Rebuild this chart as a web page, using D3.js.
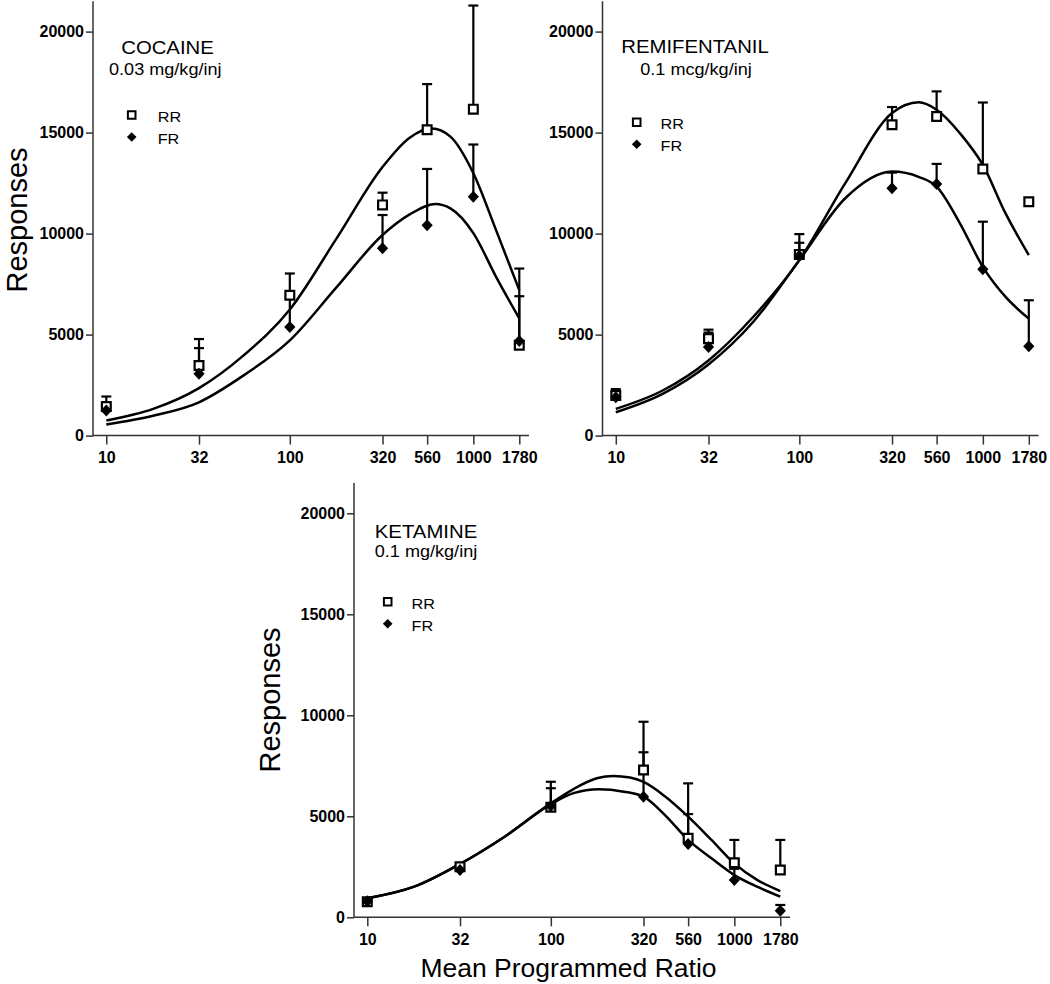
<!DOCTYPE html>
<html><head><meta charset="utf-8">
<script src="https://cdn.jsdelivr.net/npm/d3@7"></script>
<style>body{margin:0;background:#fff} svg{display:block}</style>
</head><body>
<svg id="chart" width="1050" height="984"></svg>
<script>
// ---------- data ----------
const ratios = [10, 32, 100, 320, 560, 1000, 1780];
const xTickLabels = ["10", "32", "100", "320", "560", "1000", "1780"];
const yTicks = [0, 5000, 10000, 15000, 20000];
const seriesNames = ["RR", "FR"];

// Cocaine 0.03 mg/kg/inj
const cocaineRR    = [1440, 3470, 6950, 11420, 15140, 16160, 4470];
const cocaineRRerr = [1935, 4780, 8025, 12025, 17400, 21290, 8270];
const cocaineFR    = [1240, 3060, 5380, 9270, 10410, 11830, 4680];
const cocaineFRerr = [1500, 4330, 6800, 10920, 13200, 14410, 6900];
const cocaineRRfitX = [10, 18, 32, 56, 100, 178, 320, 450, 593, 750, 1000, 1330, 1780];
const cocaineRRfit  = [745, 1320, 2350, 3970, 6240, 9700, 13300, 14750, 15200, 14800, 12990, 10170, 7200];
const cocaineFRfitX = [10, 18, 32, 56, 100, 178, 320, 450, 620, 750, 1000, 1330, 1780];
const cocaineFRfit  = [546, 980, 1650, 2980, 4715, 7300, 9930, 10950, 11465, 11250, 10025, 7860, 5800];

// Remifentanil 0.1 mcg/kg/inj
const remiRR    = [1985, 4800, 8970, 15390, 15800, 13200, 11580];
const remiRRerr = [2300, 5245, 9975, 16265, 17040, 16490, null];
const remiFR    = [1900, 4380, 8900, 12240, 12460, 8240, 4420];
const remiFRerr = [2200, 5100, 9545, 13020, 13450, 10590, 6700];
const remiRRfitX = [10, 18, 32, 56, 100, 178, 320, 447, 560, 750, 1000, 1330, 1780];
const remiRRfit  = [1323, 2233, 3722, 5872, 8685, 12500, 15966, 16500, 16130, 14970, 13400, 11000, 8933];
const remiFRfitX = [10, 18, 32, 56, 100, 178, 320, 450, 560, 750, 1000, 1330, 1780];
const remiFRfit  = [1158, 2068, 3523, 5625, 8685, 11750, 13070, 12800, 12324, 10510, 8353, 6864, 5790];

// Ketamine 0.1 mg/kg/inj
const ketRR    = [770, 2500, 5450, 7290, 3910, 2700, 2340];
const ketRRerr = [950, 2650, 6710, 9680, 6630, 3830, 3830];
const ketFR    = [800, 2340, 5510, 5970, 3630, 1850, 330];
const ketFRerr = [900, 2500, 6390, 8170, 5110, 2400, 610];
const ketRRfitX = [10, 18, 32, 56, 100, 133, 178, 219, 270, 320, 420, 560, 750, 1000, 1330, 1780];
const ketRRfit  = [940, 1515, 2640, 3990, 5640, 6350, 6880, 7000, 6920, 6700, 5980, 4980, 3830, 2670, 1850, 1300];
const ketFRfitX = [10, 18, 32, 56, 100, 133, 182, 250, 320, 420, 560, 750, 1000, 1330, 1780];
const ketFRfit  = [940, 1515, 2640, 3990, 5600, 6150, 6340, 6220, 5970, 5050, 3830, 2920, 2090, 1515, 1020];

// ---------- layout ----------
const FONT = '"Liberation Sans", Arial, Helvetica, sans-serif';
const panels = [
  {title: "COCAINE", dose: "0.03 mg/kg/inj", x0: 93, y0: 435.6,
   rr: cocaineRR, rrErr: cocaineRRerr, fr: cocaineFR, frErr: cocaineFRerr,
   fits: [[cocaineRRfitX, cocaineRRfit], [cocaineFRfitX, cocaineFRfit]],
   tcx: 167.5, ty: 54.3, scx: 165.3, sy: 75,
   lg: {mx: 131.7, my: 115, tx: 157.7}, ylab: {x: 26.5, y: 220}},
  {title: "REMIFENTANIL", dose: "0.1 mcg/kg/inj", x0: 602.5, y0: 435.6,
   rr: remiRR, rrErr: remiRRerr, fr: remiFR, frErr: remiFRerr,
   fits: [[remiRRfitX, remiRRfit], [remiFRfitX, remiFRfit]],
   tcx: 695, ty: 53.3, scx: 696, sy: 75,
   lg: {mx: 636.7, my: 122.3, tx: 660.5}, ylab: null},
  {title: "KETAMINE", dose: "0.1 mg/kg/inj", x0: 354, y0: 917.3,
   rr: ketRR, rrErr: ketRRerr, fr: ketFR, frErr: ketFRerr,
   fits: [[ketRRfitX, ketRRfit], [ketFRfitX, ketFRfit]],
   tcx: 426, ty: 538.3, scx: 426, sy: 557.3,
   lg: {mx: 387.7, my: 601.7, tx: 411.5}, ylab: {x: 280, y: 700}, xlab: true}
];

const svg = d3.select("#chart");
svg.append("rect").attr("width", 1050).attr("height", 984).attr("fill", "#fff");

const AX = "#333";
function squarePath(s) { return `M${-s},${-s}H${s}V${s}H${-s}Z`; }
function diamondPath(w, h) { return `M0,${-h}L${w},0L0,${h}L${-w},0Z`; }

panels.forEach(p => {
  const g = svg.append("g");
  const x = d3.scaleLog().domain([10, 1780]).range([p.x0 + 13.3, p.x0 + 426.3]);
  const y = d3.scaleLinear().domain([0, 20000]).range([p.y0, p.y0 - 404]);
  const xEnd = p.x0 + 436;
  const yTop = y(21500);

  // axes
  const xa = g.append("g").attr("transform", `translate(0,${p.y0})`)
    .call(d3.axisBottom(x).tickValues(ratios).tickFormat((d, i) => xTickLabels[i]).tickSize(9).tickPadding(7));
  const ya = g.append("g").attr("transform", `translate(${p.x0},0)`)
    .call(d3.axisLeft(y).tickValues(yTicks).tickFormat(d3.format("d")).tickSize(7).tickPadding(2));
  [xa, ya].forEach(a => {
    a.select(".domain").remove();
    a.selectAll(".tick line").attr("stroke", AX).attr("stroke-width", 1.5);
    a.selectAll(".tick text").attr("fill", "#000").style("font-family", FONT)
      .style("font-size", "16px").style("font-weight", "bold");
  });
  g.append("line").attr("x1", p.x0).attr("x2", xEnd).attr("y1", p.y0).attr("y2", p.y0)
    .attr("stroke", AX).attr("stroke-width", 1.5);
  g.append("line").attr("x1", p.x0).attr("x2", p.x0).attr("y1", p.y0 + 0.75).attr("y2", yTop)
    .attr("stroke", AX).attr("stroke-width", 1.5);

  // fitted curves
  const line = d3.line().x(d => x(d[0])).y(d => y(d[1])).curve(d3.curveMonotoneX);
  p.fits.forEach(([fx, fy]) => {
    g.append("path").datum(fx.map((v, i) => [v, fy[i]]))
      .attr("d", line).attr("fill", "none").attr("stroke", "#000").attr("stroke-width", 2.5);
  });

  // error bars (upper only)
  const errs = [];
  ratios.forEach((r, i) => {
    if (p.rrErr[i] != null) errs.push([r, p.rr[i], p.rrErr[i]]);
    if (p.frErr[i] != null) errs.push([r, p.fr[i], p.frErr[i]]);
  });
  errs.forEach(e => {
    g.append("line").attr("x1", x(e[0])).attr("x2", x(e[0])).attr("y1", y(e[1])).attr("y2", y(e[2]))
      .attr("stroke", "#000").attr("stroke-width", 2.2);
    g.append("line").attr("x1", x(e[0]) - 5).attr("x2", x(e[0]) + 5).attr("y1", y(e[2])).attr("y2", y(e[2]))
      .attr("stroke", "#000").attr("stroke-width", 2.2);
  });

  // markers
  g.selectAll(".rr").data(p.rr).enter().append("path")
    .attr("transform", (d, i) => `translate(${x(ratios[i])},${y(d)})`)
    .attr("d", squarePath(4.4)).attr("fill", "#fff").attr("stroke", "#000").attr("stroke-width", 2.2);
  g.selectAll(".fr").data(p.fr).enter().append("path")
    .attr("transform", (d, i) => `translate(${x(ratios[i])},${y(d)})`)
    .attr("d", diamondPath(5.6, 6)).attr("fill", "#000");

  // title
  g.append("text").attr("transform", `translate(${p.tcx},${p.ty}) scale(1.13,1)`)
    .attr("text-anchor", "middle").style("font-family", FONT).style("font-size", "18px").text(p.title);
  g.append("text").attr("transform", `translate(${p.scx},${p.sy}) scale(1.13,1)`)
    .attr("text-anchor", "middle").style("font-family", FONT).style("font-size", "16px").text(p.dose);

  // legend
  const lg = p.lg;
  g.append("path").attr("transform", `translate(${lg.mx},${lg.my})`).attr("d", squarePath(3.8))
    .attr("fill", "#fff").attr("stroke", "#000").attr("stroke-width", 2);
  g.append("path").attr("transform", `translate(${lg.mx},${lg.my + 22})`).attr("d", diamondPath(4.8, 4.8))
    .attr("fill", "#000");
  seriesNames.forEach((s, i) => {
    g.append("text").attr("transform", `translate(${lg.tx},${lg.my + 7 + i * 22}) scale(1.08,1)`)
      .style("font-family", FONT).style("font-size", "15px").text(s);
  });

  // axis titles
  if (p.ylab) {
    g.append("text").attr("transform", `translate(${p.ylab.x},${p.ylab.y}) rotate(-90)`)
      .attr("text-anchor", "middle").style("font-family", FONT).style("font-size", "29px").text("Responses");
  }
  if (p.xlab) {
    g.append("text").attr("x", 568.5).attr("y", 977).attr("text-anchor", "middle")
      .style("font-family", FONT).style("font-size", "26.5px").text("Mean Programmed Ratio");
  }
});
</script>
</body></html>
